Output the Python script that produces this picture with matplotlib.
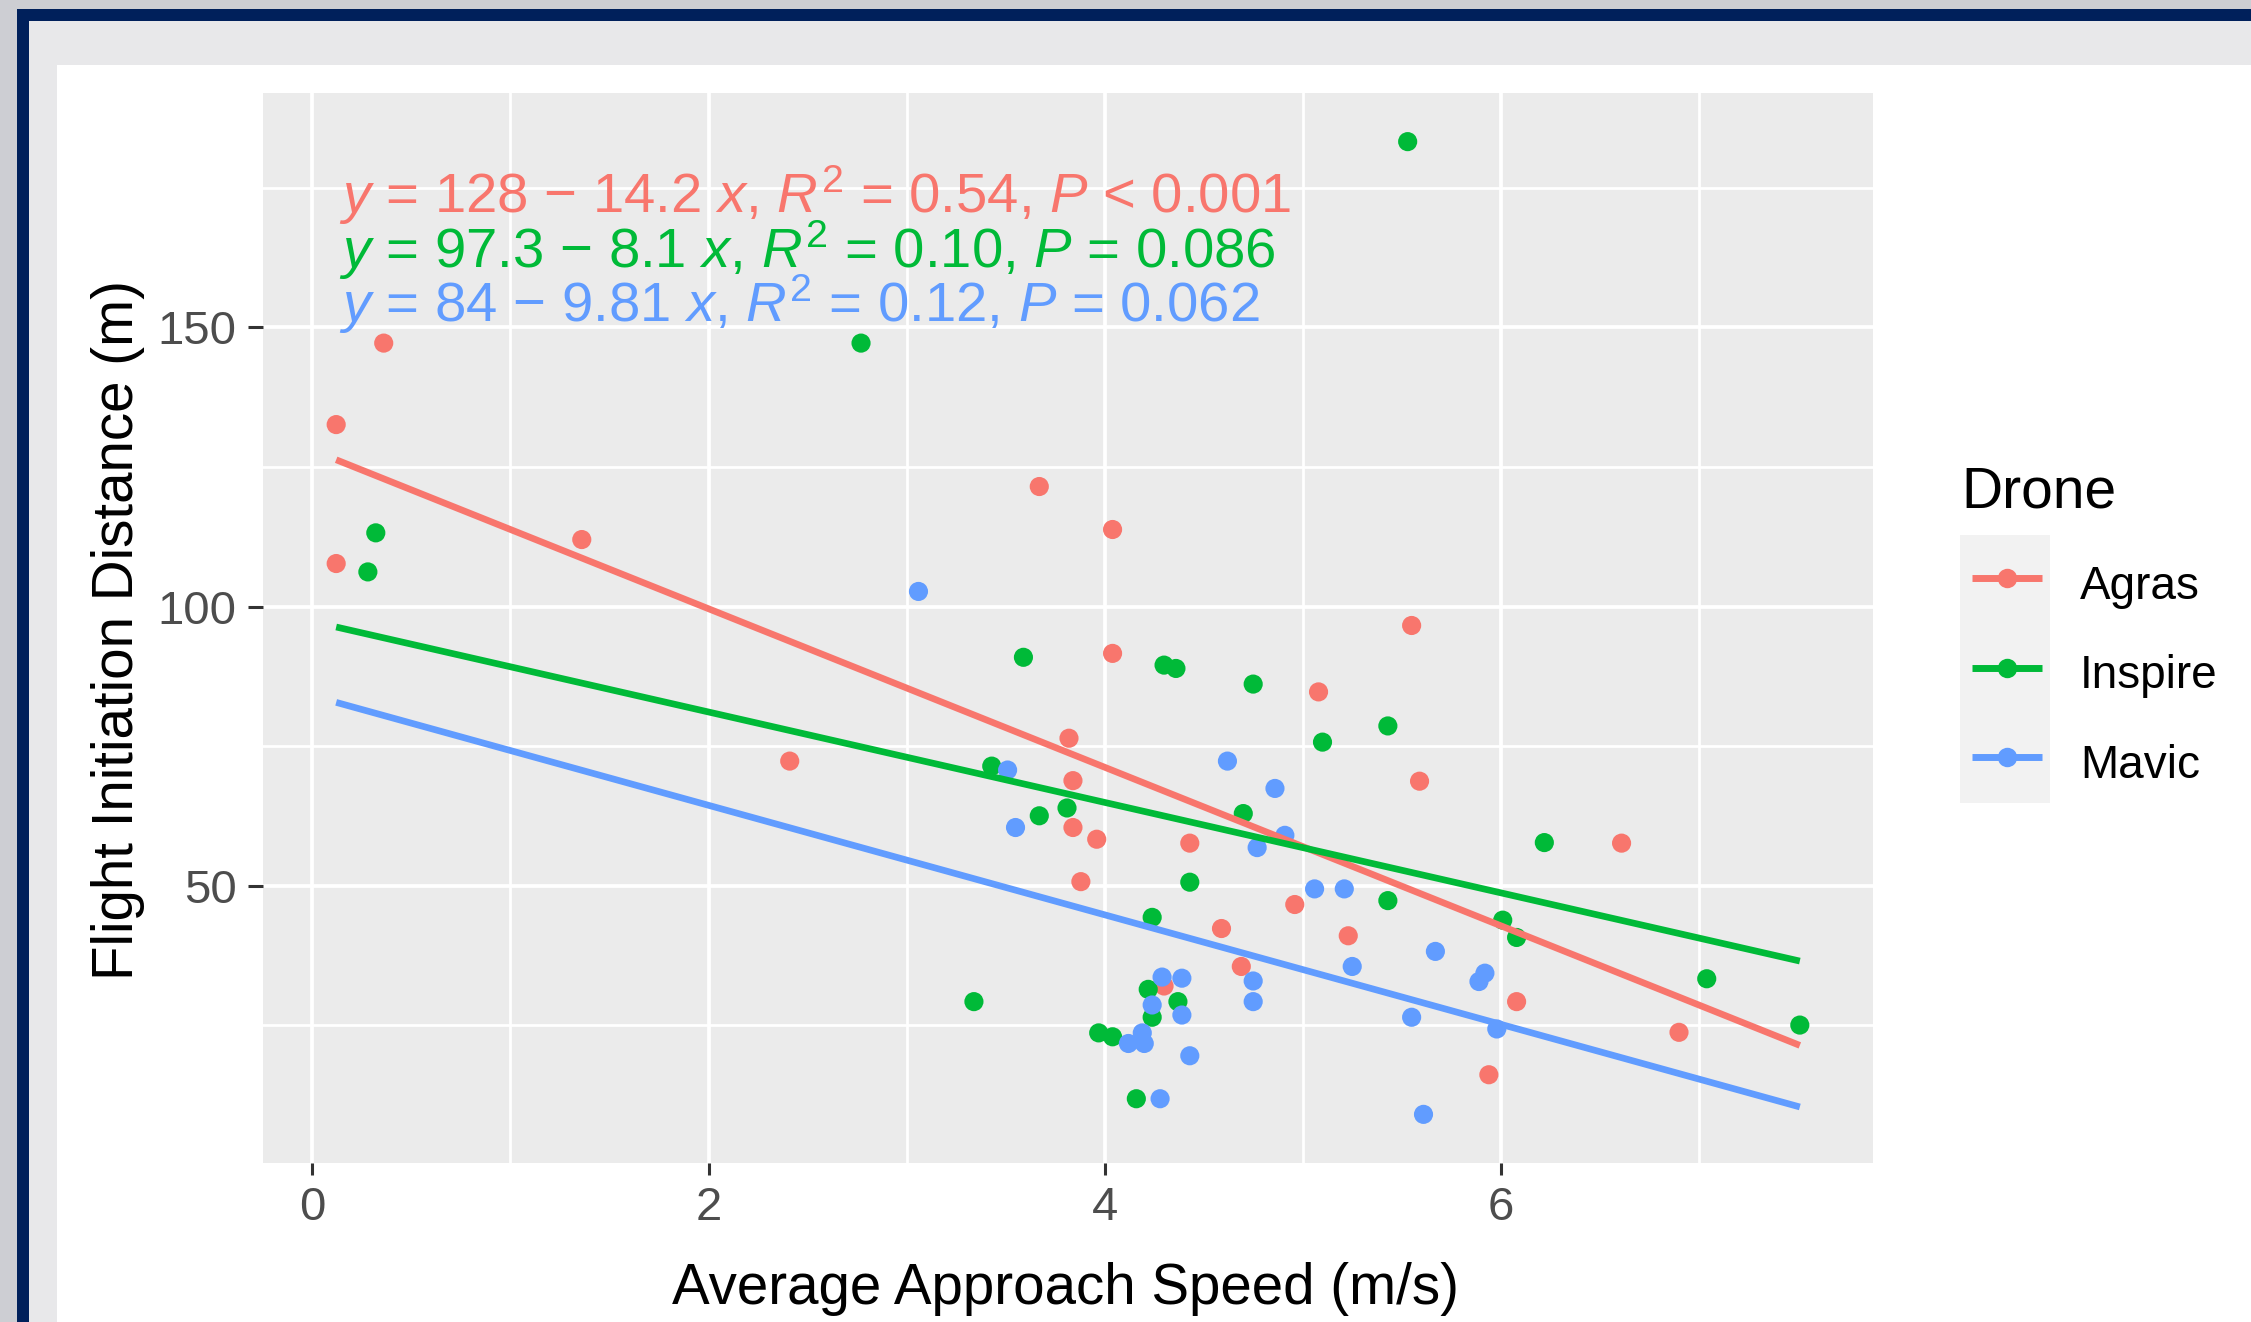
import numpy as np
import matplotlib
matplotlib.use("Agg")
import matplotlib.pyplot as plt
from matplotlib.patches import Rectangle
from matplotlib.lines import Line2D

plt.rcParams['font.family'] = ['Liberation Sans', 'DejaVu Sans']
plt.rcParams['mathtext.fontset'] = 'custom'
plt.rcParams['mathtext.rm'] = 'Liberation Sans'
plt.rcParams['mathtext.it'] = 'Liberation Sans:italic'

# data
drones = ['Agras', 'Inspire', 'Mavic']
colors = ['#F8766D', '#00BA38', '#619CFF']

agras_speed = [0.12, 0.36, 0.12, 1.36, 2.41, 3.67, 4.04, 4.04, 3.82, 3.84, 3.84, 3.96, 3.88,
               4.43, 4.59, 4.69, 4.30, 5.08, 4.96, 5.23, 5.55, 5.59, 6.08, 5.94, 6.61, 6.90]
agras_fid = [132.6, 147.2, 107.7, 112.0, 72.3, 121.5, 113.8, 91.6, 76.4, 68.8, 60.4, 58.3, 50.7,
             57.6, 42.3, 35.5, 32.0, 84.7, 46.6, 41.0, 96.6, 68.7, 29.2, 16.1, 57.6, 23.7]

inspire_speed = [5.53, 2.77, 0.32, 0.28, 3.59, 4.30, 4.36, 4.75, 5.43, 5.10, 3.43, 3.81, 3.67,
                 4.70, 4.43, 5.43, 6.01, 6.08, 4.24, 3.34, 4.22, 4.37, 4.24, 3.97, 4.04, 4.16,
                 7.04, 6.22, 7.51]
inspire_fid = [183.3, 147.2, 113.2, 106.2, 90.9, 89.5, 88.9, 86.1, 78.6, 75.7, 71.4, 63.9, 62.5,
               62.9, 50.6, 47.3, 43.8, 40.7, 44.3, 29.2, 31.4, 29.2, 26.4, 23.6, 22.9, 11.8,
               33.3, 57.7, 25.0]

mavic_speed = [3.06, 3.51, 4.62, 4.86, 3.55, 4.77, 4.91, 5.06, 5.21, 5.67, 5.25, 5.92, 5.89,
               4.75, 4.75, 4.29, 4.39, 4.24, 4.39, 5.55, 5.98, 4.19, 4.12, 4.20, 4.43, 4.28, 5.61]
mavic_fid = [102.7, 70.7, 72.3, 67.4, 60.4, 56.8, 59.0, 49.4, 49.4, 38.2, 35.5, 34.3, 32.8,
             32.9, 29.2, 33.6, 33.4, 28.6, 26.8, 26.4, 24.3, 23.6, 21.7, 21.7, 19.5, 11.8, 9.0]

intercepts = [128, 97.3, 84]
slopes = [-14.2, -8.1, -9.81]
r_squared = [0.54, 0.10, 0.12]
p_labels = ['< 0.001', '= 0.086', '= 0.062']

speeds = [agras_speed, inspire_speed, mavic_speed]
fids = [agras_fid, inspire_fid, mavic_fid]

W, H = 2251, 1322


def fx(px):
    return px / W


def fy(py):
    return 1 - py / H


def add_rect(fig, x0, y0, x1, y1, color, z):
    fig.patches.append(Rectangle((fx(x0), fy(y1)), (x1 - x0) / W, (y1 - y0) / H,
                                 transform=fig.transFigure, facecolor=color,
                                 edgecolor='none', zorder=z))


fig = plt.figure(figsize=(W / 100, H / 100), dpi=100)
fig.patch.set_facecolor('#cdced3')

# screenshot frame around the plot
add_rect(fig, 29, 21, W, H, '#e8e8ea', -9)
add_rect(fig, 17, 9, W, 21, '#00205B', -8)
add_rect(fig, 17, 9, 29, H, '#00205B', -8)
add_rect(fig, 57, 65, W, H, 'white', -7)

ax = fig.add_axes([fx(263), fy(1163), (1873 - 263) / W, (1163 - 93) / H])
ax.set_facecolor('#EBEBEB')
for s in ax.spines.values():
    s.set_visible(False)

all_x = np.concatenate([np.array(v) for v in speeds])
all_y = np.concatenate([np.array(v) for v in fids])
xr = all_x.max() - all_x.min()
yr = all_y.max() - all_y.min()
ax.set_xlim(all_x.min() - 0.05 * xr, all_x.max() + 0.05 * xr)
ax.set_ylim(all_y.min() - 0.05 * yr, all_y.max() + 0.05 * yr)

ax.set_xticks([0, 2, 4, 6])
ax.set_xticks([1, 3, 5, 7], minor=True)
ax.set_yticks([50, 100, 150])
ax.set_yticks([25, 75, 125, 175], minor=True)
ax.grid(which='major', color='white', lw=2.7)
ax.grid(which='minor', color='white', lw=2.0)
ax.set_axisbelow(True)
ax.tick_params(which='minor', length=0)
ax.tick_params(axis='x', which='major', length=8.6, width=2.2, color='#333333',
               labelsize=34, labelcolor='#4D4D4D', pad=8)
ax.tick_params(axis='y', which='major', length=11, width=2.2, color='#333333',
               labelsize=34, labelcolor='#4D4D4D', pad=8)

# points, then fitted lines on top
for sx, sy, c in zip(speeds, fids, colors):
    ax.scatter(sx, sy, s=190, color=c, edgecolors='none', zorder=3)

xfit = np.array([all_x.min(), all_x.max()])
for b0, b1, c in zip(intercepts, slopes, colors):
    ax.plot(xfit, b0 + b1 * xfit, color=c, lw=4.8, zorder=4, solid_capstyle='butt')

# regression equations
for i, (b0, b1, r2, p, c) in enumerate(zip(intercepts, slopes, r_squared, p_labels, colors)):
    label = f"$y$ = {b0:g} \u2212 {abs(b1):g} $x$, $R^2$ = {r2:.2f}, $P$ {p}"
    ax.text(0.136, 170.5 - 9.8 * i, label, color=c, fontsize=40.5, ha='left', va='baseline', zorder=5)

# axis titles
fig.text(fx(1066), fy(1304), 'Average Approach Speed (m/s)', ha='center', va='baseline',
         fontsize=40.7, color='black')
fig.text(fx(118), fy(630), 'Flight Initiation Distance (m)', rotation=90, ha='center',
         va='center', fontsize=40.7, color='black')

# legend
fig.text(fx(1961), fy(507), 'Drone', ha='left', va='baseline', fontsize=41, color='black')
add_rect(fig, 1960, 535, 2050, 803, '#F2F2F2', -6)
for i, (name, c) in enumerate(zip(drones, colors)):
    yk = 578 + 89.5 * i
    fig.lines.append(Line2D([fx(1972), fx(2042)], [fy(yk), fy(yk)], transform=fig.transFigure,
                            color=c, lw=5, solid_capstyle='butt'))
    fig.lines.append(Line2D([fx(2007)], [fy(yk)], transform=fig.transFigure, marker='o',
                            ms=14, color=c, markeredgewidth=0))
    fig.text(fx(2080), fy(yk + 21), name, ha='left', va='baseline', fontsize=33, color='black')

fig.savefig('out.png', dpi=100, facecolor=fig.get_facecolor())
